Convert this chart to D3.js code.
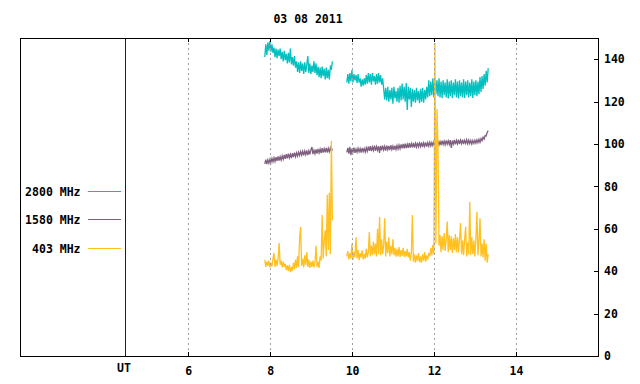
<html>
    <head>
        <title>Solar radio flux 03 08 2011</title>
        <script src="https://cdn.jsdelivr.net/npm/d3@7"></script>
        <style>
            body { margin: 0; background: #fff; }
            text { font-family: "DejaVu Sans Mono", monospace; font-weight: bold; font-size: 11.5px; fill: #000; }
        </style>
    </head>
    <body>
        <svg id="chart"></svg>
    </body>
    <script>
        const WIDTH = 640
        const HEIGHT = 384
        const PLOT = {left: 20.5, right: 598, top: 38, bottom: 356}

        const TITLE = "03 08 2011"
        const X_DOMAIN = [1.91, 16]          // hours UT
        const X_TICKS = [6, 8, 10, 12, 14]
        const UT_HOUR = 4.47                 // position of the "UT" marker line
        const Y_DOMAIN = [0, 150]
        const Y_TICKS = [0, 20, 40, 60, 80, 100, 120, 140]

        const SERIES_NAMES = ["2800 MHz", "1580 MHz", "403 MHz"]
        const SERIES_COLORS = ["#00c0c0", "#7f5f7f", "#ffc020"]

        // two recording segments, one reading every STEP_H hours
        const SEG_STARTS = [7.87, 9.871]
        const STEP_H = 0.025

        // 2800 MHz
        const F2800_A = [
            141, 147, 142, 148, 144, 148.5, 143.5, 147, 143, 145.5,
            141, 145, 140.5, 144.5, 141.5, 145, 140, 143.5, 139, 144,
            139.5, 142.5, 138, 143, 138.5, 145, 137.5, 141, 137, 141.5,
            136, 139, 134, 138.5, 133.5, 139, 134.5, 138, 133, 138.5,
            134, 137.5, 141.5, 133.5, 138, 133, 137, 134, 139, 133.5,
            138, 132.5, 136.5, 131.5, 136, 131, 136.5, 132, 135.5, 130.5,
            136, 131, 135, 130.5, 136.5, 135.5, 139]
        const F2800_B = [
            129, 133, 128.5, 133.5, 129.5, 134.9, 129, 133, 130, 132.5,
            128.8, 133, 129, 131, 127, 130.5, 127.5, 131, 128, 132.5,
            128.5, 133.5, 129, 133, 128, 133.5, 129.5, 132, 128, 133,
            128.5, 133.5, 129, 132.5, 128, 131, 126, 121, 126.5, 120.5,
            127, 120, 125.5, 121, 126.5, 119, 127, 121.5, 125, 120,
            126.5, 119.5, 127.5, 120.5, 128.5, 121, 127, 120, 128.8, 116,
            127, 121, 126.5, 117.5, 126, 120, 125.5, 119.5, 126.5, 120.5,
            125, 119.3, 126, 120, 126.5, 119.5, 125.5, 121, 127, 122,
            130, 122.5, 129.5, 123, 131, 122, 130.5, 123.5, 130, 122.5,
            131, 122, 129.5, 121.7, 130, 123, 129, 122, 130.5, 121.5,
            129.5, 122.5, 130, 121.7, 129, 123, 130.5, 122, 129.5, 121.5,
            130, 122.5, 129, 122, 130.5, 121.7, 129.5, 123, 130, 122,
            129, 122.5, 130.5, 121.7, 129.5, 123, 130, 122.5, 129.5, 123.5,
            131.6, 124.5, 132, 126, 133, 127.5, 134.5, 129, 135.8]

        // 1580 MHz
        const F1580_A = [
            90.6, 92.6, 90.5, 92.5, 91, 92.8, 91.3, 93.2, 91.6, 93.5,
            91.8, 93.8, 92, 94.2, 92.2, 94, 92.4, 94.4, 92.8, 94.8,
            93, 95.2, 93.2, 95.5, 93.5, 95.1, 93.4, 95.7, 93.8, 95.9,
            94, 95.8, 94.3, 96.2, 94.6, 96.4, 94.8, 96.6, 94.7, 96.7,
            95, 97, 94.8, 96.8, 95.1, 97.2, 98.6, 95.2, 97.1, 95.4,
            97.4, 95.5, 97.7, 95.8, 97.6, 95.7, 98, 96, 97.8, 96.1,
            98.2, 96, 98, 96.3, 98.2, 96.6, 97.8]
        const F1580_B = [
            96, 98.2, 95.5, 98.6, 94.8, 97.8, 96.2, 98.3, 95.8, 97.6,
            96.1, 98, 96.3, 97.8, 96, 98.1, 96.4, 97.9, 96.2, 98.2,
            96.6, 98.7, 96.8, 99, 96.7, 98.6, 97, 99.2, 96.8, 98.8,
            97.1, 99, 95.8, 99.1, 97, 99.2, 97.2, 98.9, 96.9, 99.2,
            97.3, 99.1, 97.1, 99.4, 97.4, 99, 97.2, 99.2, 97.4, 99.3,
            97.6, 99.5, 97.8, 99.8, 98, 100, 97.9, 100.2, 98.1, 99.9,
            98.2, 100.4, 98.3, 100.2, 98.4, 100.5, 98.3, 100.3, 98.6, 100.6,
            98.7, 100.4, 98.8, 100.7, 98.6, 100.5, 98.9, 100.8, 98.8, 100.6,
            99, 100.8, 99.1, 100.7, 99.3, 101, 99.2, 101.2, 99.4, 101.5,
            99.6, 101.2, 99.5, 101.6, 99.8, 101.4, 99.7, 101.7, 99.9, 101.5,
            99.8, 101.8, 98.2, 101.6, 100, 101.9, 99.8, 101.7, 100.1, 102,
            99.9, 101.8, 100.2, 102.1, 100, 101.7, 100.3, 102, 100.1, 101.8,
            100.2, 101.7, 100, 101.6, 100.3, 101.8, 100.4, 102, 100.6, 102.2,
            100.8, 102.6, 101.6, 103.2, 102.3, 104, 103.8, 105.4, 106.3]

        // 403 MHz
        const F403_A = [
            45.3, 42, 44.5, 42.5, 45, 41.8, 44, 42.2, 46, 48.6,
            42, 45.5, 42.5, 46, 53.3, 43, 45, 41.8, 44.5, 42,
            43.5, 40.5, 42.8, 40, 43, 39.6, 42, 40.2, 44, 41,
            45.5, 41.5, 47, 42, 55.7, 60.8, 42.5, 46, 41.8, 47.5,
            43, 49, 42, 45.5, 41.5, 44.5, 42, 45, 41.8, 44,
            52, 42, 44.5, 41.5, 47, 45, 66.5, 46, 54, 59.4,
            47, 76, 50, 77, 48, 101.4, 64]
        const F403_B = [
            47, 49.5, 45.5, 48.5, 46, 53, 45.5, 49, 46.5, 56,
            46, 50, 45.2, 48.5, 46.5, 49.8, 45.5, 48, 46, 50.5,
            46.5, 49, 58.5, 47, 52, 47.5, 54, 48, 53, 47,
            60, 48, 65.6, 47.5, 55, 48, 52.5, 65, 47, 54,
            48.5, 56, 47, 52, 48, 55, 47.5, 51, 46.8, 50.5,
            47, 51.4, 46.7, 50, 47.2, 51, 46.8, 49.5, 47, 50.5,
            46.5, 49, 45, 48.5, 66.5, 44.5, 48, 44, 47.5, 45,
            48.5, 44.2, 47, 44, 48, 45, 49, 44.5, 47.5, 45.5,
            48.5, 47, 51, 47.5, 52.4, 48, 147.6, 53, 116.5, 99.5,
            52, 57, 49, 56.5, 50, 58, 49.5, 55, 63.4, 49,
            57, 50, 56.5, 48.6, 55.5, 50, 57.5, 49, 56, 48.8,
            55, 62.7, 48, 54.5, 47.5, 55, 61, 47, 53.5, 48,
            72.8, 47.5, 56, 48, 54.5, 47, 55, 68, 47.5, 54,
            65, 47, 53, 46.5, 55, 45, 53, 44, 48]

        const SERIES_DATA = [[F2800_A, F2800_B], [F1580_A, F1580_B], [F403_A, F403_B]]

        // legend rows (baseline of text)
        const LEGEND_Y = [195.5, 224, 252.5]

        function drawChart() {
            const svg = d3.select("#chart")
                .attr("width", WIDTH)
                .attr("height", HEIGHT)

            const xScale = d3.scaleLinear().domain(X_DOMAIN).range([PLOT.left, PLOT.right])
            const yScale = d3.scaleLinear().domain(Y_DOMAIN).range([PLOT.bottom, PLOT.top])

            // Title
            svg.append("text")
                .attr("x", 308)
                .attr("y", 22.7)
                .attr("text-anchor", "middle")
                .text(TITLE)

            // Series lines, each made of two recording segments
            const line = d3.line()
                .x(d => xScale(d.t))
                .y(d => yScale(d.v))

            SERIES_DATA.forEach((segs, s) => {
                segs.forEach((vals, k) => {
                    let pts = vals.map((v, i) => ({t: SEG_STARTS[k] + i * STEP_H, v: v}))
                    svg.append("path")
                        .datum(pts)
                        .attr("fill", "none")
                        .attr("stroke", SERIES_COLORS[s])
                        .attr("stroke-width", 1.3)
                        .attr("d", line)
                })
            })

            // Vertical grid (drawn in front, like gnuplot)
            svg.append("g")
                .selectAll("line")
                .data(X_TICKS)
                .enter().append("line")
                    .attr("x1", d => Math.round(xScale(d)) + 0.5)
                    .attr("x2", d => Math.round(xScale(d)) + 0.5)
                    .attr("y1", PLOT.top)
                    .attr("y2", PLOT.bottom)
                    .attr("stroke", "#a0a0a0")
                    .attr("stroke-width", 1)
                    .attr("stroke-dasharray", "2,3")
                    .attr("shape-rendering", "crispEdges")

            // UT marker line
            svg.append("line")
                .attr("x1", Math.round(xScale(UT_HOUR)) + 0.5)
                .attr("x2", Math.round(xScale(UT_HOUR)) + 0.5)
                .attr("y1", PLOT.top)
                .attr("y2", PLOT.bottom)
                .attr("stroke", "#6a0000")
                .attr("shape-rendering", "crispEdges")

            // Border
            svg.append("rect")
                .attr("x", PLOT.left)
                .attr("y", PLOT.top + 0.5)
                .attr("width", PLOT.right - PLOT.left)
                .attr("height", PLOT.bottom - PLOT.top)
                .attr("fill", "none")
                .attr("stroke", "#000")
                .attr("shape-rendering", "crispEdges")

            // Bottom axis, ticks pointing inward
            const xAxis = d3.axisBottom(xScale).tickValues(X_TICKS).tickSize(-4).tickPadding(10.5)
            const gx = svg.append("g")
                .attr("transform", `translate(0,${PLOT.bottom})`)
                .call(xAxis)
            gx.select(".domain").remove()
            gx.selectAll("text").attr("font-family", null).attr("font-size", null)
            gx.selectAll("line").attr("shape-rendering", "crispEdges")

            // Top axis: mirror ticks only
            const gxt = svg.append("g")
                .attr("transform", `translate(0,${PLOT.top})`)
                .call(d3.axisTop(xScale).tickValues(X_TICKS).tickSize(-4).tickFormat(""))
            gxt.select(".domain").remove()
            gxt.selectAll("line").attr("shape-rendering", "crispEdges")

            // "UT" label under the marker
            svg.append("text")
                .attr("x", xScale(UT_HOUR) - 1.5)
                .attr("y", 371.7)
                .attr("text-anchor", "middle")
                .text("UT")

            // Right axis
            const yAxis = d3.axisRight(yScale).tickValues(Y_TICKS).tickSize(-4).tickPadding(6)
            const gy = svg.append("g")
                .attr("transform", `translate(${PLOT.right},0)`)
                .call(yAxis)
            gy.select(".domain").remove()
            gy.selectAll("text").attr("font-family", null).attr("font-size", null)
            gy.selectAll("line").attr("shape-rendering", "crispEdges")

            // Legend
            SERIES_NAMES.forEach((name, i) => {
                svg.append("text")
                    .attr("x", 80.5)
                    .attr("y", LEGEND_Y[i])
                    .attr("text-anchor", "end")
                    .text(name)
                svg.append("line")
                    .attr("x1", 88)
                    .attr("x2", 121)
                    .attr("y1", LEGEND_Y[i] - 4.5)
                    .attr("y2", LEGEND_Y[i] - 4.5)
                    .attr("stroke", SERIES_COLORS[i])
                    .attr("shape-rendering", "crispEdges")
            })
        }

        drawChart()
    </script>
</html>
